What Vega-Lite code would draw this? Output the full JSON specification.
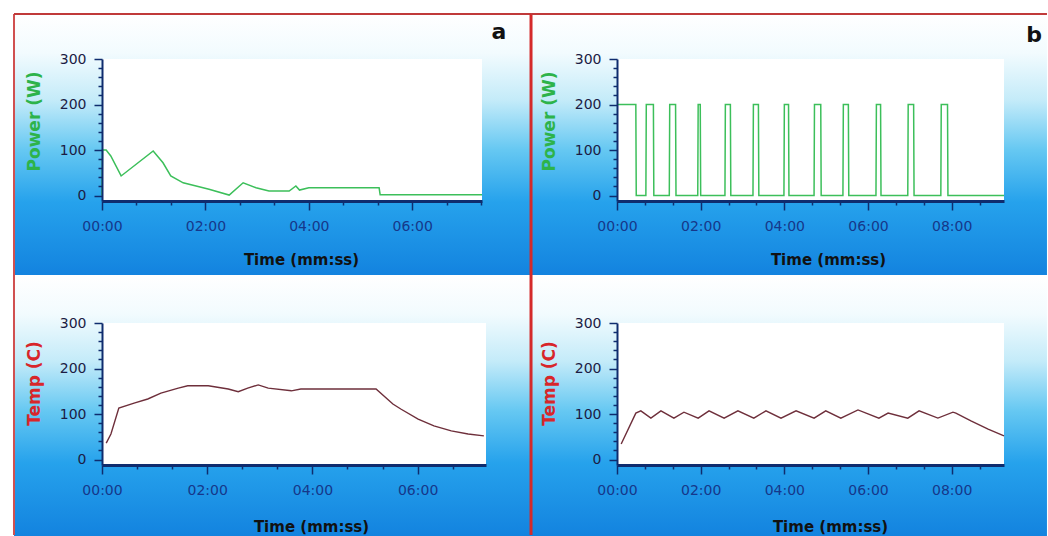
{
  "$schema": "https://vega.github.io/schema/vega-lite/v6.json",
  "background": "#ffffff",
  "padding": {"left": 12, "top": 12, "right": 0, "bottom": 0},
  "bounds": "flush",
  "columns": 2,
  "spacing": {"row": 122, "column": 131},
  "datasets": {
    "one": [{"k": 1}],
    "powerA": [
      {"t": 0, "v": 0}, {"t": 0.01, "v": 100}, {"t": 0.08, "v": 100}, {"t": 0.17, "v": 87}, {"t": 0.37, "v": 43},
      {"t": 0.99, "v": 98}, {"t": 1.18, "v": 72}, {"t": 1.33, "v": 43}, {"t": 1.57, "v": 28}, {"t": 1.82, "v": 21},
      {"t": 2.07, "v": 14}, {"t": 2.46, "v": 1}, {"t": 2.73, "v": 28}, {"t": 2.98, "v": 17}, {"t": 3.23, "v": 10},
      {"t": 3.62, "v": 10}, {"t": 3.75, "v": 21}, {"t": 3.82, "v": 12}, {"t": 4.0, "v": 17}, {"t": 5.36, "v": 17},
      {"t": 5.38, "v": 2}, {"t": 7.35, "v": 2}
    ],
    "powerB": [
      {"t": 0, "v": 200}, {"t": 0.45, "v": 200}, {"t": 0.46, "v": 0},
      {"t": 0.69, "v": 0}, {"t": 0.70, "v": 200}, {"t": 0.87, "v": 200}, {"t": 0.88, "v": 0},
      {"t": 1.25, "v": 0}, {"t": 1.26, "v": 200}, {"t": 1.40, "v": 200}, {"t": 1.41, "v": 0},
      {"t": 1.93, "v": 0}, {"t": 1.94, "v": 200}, {"t": 1.99, "v": 200}, {"t": 2.0, "v": 0},
      {"t": 2.58, "v": 0}, {"t": 2.59, "v": 200}, {"t": 2.71, "v": 200}, {"t": 2.72, "v": 0},
      {"t": 3.25, "v": 0}, {"t": 3.26, "v": 200}, {"t": 3.38, "v": 200}, {"t": 3.39, "v": 0},
      {"t": 3.99, "v": 0}, {"t": 4.0, "v": 200}, {"t": 4.10, "v": 200}, {"t": 4.11, "v": 0},
      {"t": 4.71, "v": 0}, {"t": 4.72, "v": 200}, {"t": 4.87, "v": 200}, {"t": 4.88, "v": 0},
      {"t": 5.40, "v": 0}, {"t": 5.41, "v": 200}, {"t": 5.53, "v": 200}, {"t": 5.54, "v": 0},
      {"t": 6.19, "v": 0}, {"t": 6.20, "v": 200}, {"t": 6.30, "v": 200}, {"t": 6.31, "v": 0},
      {"t": 6.95, "v": 0}, {"t": 6.96, "v": 200}, {"t": 7.09, "v": 200}, {"t": 7.10, "v": 0},
      {"t": 7.74, "v": 0}, {"t": 7.75, "v": 200}, {"t": 7.90, "v": 200}, {"t": 7.91, "v": 0},
      {"t": 9.25, "v": 0}
    ],
    "tempA": [
      {"t": 0.08, "v": 36}, {"t": 0.17, "v": 56}, {"t": 0.32, "v": 113}, {"t": 0.61, "v": 124}, {"t": 0.87, "v": 133},
      {"t": 1.12, "v": 146}, {"t": 1.45, "v": 157}, {"t": 1.63, "v": 162}, {"t": 2.02, "v": 162}, {"t": 2.40, "v": 155},
      {"t": 2.59, "v": 149}, {"t": 2.77, "v": 157}, {"t": 2.97, "v": 164}, {"t": 3.16, "v": 157}, {"t": 3.60, "v": 151},
      {"t": 3.78, "v": 155}, {"t": 5.21, "v": 155}, {"t": 5.53, "v": 122}, {"t": 5.68, "v": 111}, {"t": 6.01, "v": 89},
      {"t": 6.31, "v": 74}, {"t": 6.64, "v": 63}, {"t": 6.96, "v": 56}, {"t": 7.26, "v": 52}
    ],
    "tempB": [
      {"t": 0.1, "v": 34}, {"t": 0.45, "v": 102}, {"t": 0.57, "v": 107}, {"t": 0.81, "v": 91}, {"t": 1.05, "v": 107},
      {"t": 1.36, "v": 91}, {"t": 1.6, "v": 104}, {"t": 1.94, "v": 91}, {"t": 2.2, "v": 107}, {"t": 2.56, "v": 91},
      {"t": 2.89, "v": 107}, {"t": 3.27, "v": 91}, {"t": 3.56, "v": 107}, {"t": 3.92, "v": 91}, {"t": 4.28, "v": 107},
      {"t": 4.71, "v": 91}, {"t": 4.99, "v": 107}, {"t": 5.35, "v": 91}, {"t": 5.76, "v": 109}, {"t": 6.26, "v": 91},
      {"t": 6.48, "v": 102}, {"t": 6.95, "v": 91}, {"t": 7.22, "v": 107}, {"t": 7.67, "v": 91}, {"t": 8.03, "v": 104},
      {"t": 8.1, "v": 102}, {"t": 8.46, "v": 85}, {"t": 8.87, "v": 67}, {"t": 9.25, "v": 52}
    ]
  },
  "concat": [
    {
      "width": 380, "height": 142,
      "layer": [
        {"data": {"name": "one"}, "mark": {"type": "rect", "fill": {"gradient": "linear", "x1": 0, "y1": 0, "x2": 0, "y2": 1, "stops": [{"offset": 0, "color": "#ffffff"}, {"offset": 0.15, "color": "#f2fbfe"}, {"offset": 0.33, "color": "#c4ebf9"}, {"offset": 0.52, "color": "#66c8f2"}, {"offset": 0.72, "color": "#26a2ec"}, {"offset": 1, "color": "#1383df"}]}},
         "encoding": {"x": {"datum": -1.702, "type": "quantitative", "scale": {"domain": [0, 7.35], "nice": false, "zero": false}}, "x2": {"datum": 8.298},
                      "y": {"datum": 398.9, "type": "quantitative", "scale": {"domain": [-12, 300], "nice": false, "zero": false}}, "y2": {"datum": -174.6}}},
        {"data": {"name": "one"}, "mark": {"type": "rect", "fill": "#ffffff"},
         "encoding": {"x": {"datum": 0, "type": "quantitative"}, "x2": {"datum": 7.35}, "y": {"datum": -12, "type": "quantitative"}, "y2": {"datum": 300}}},
        {"data": {"name": "one"}, "mark": {"type": "rule", "color": "#d05050", "strokeWidth": 2},
         "encoding": {"x": {"datum": -1.702, "type": "quantitative"}, "y": {"datum": 398.9, "type": "quantitative"}, "y2": {"datum": -174.6}}},
        {"data": {"name": "one"}, "mark": {"type": "rule", "color": "#c03a3a", "strokeWidth": 2},
         "encoding": {"x": {"datum": -1.702, "type": "quantitative"}, "x2": {"datum": 8.298}, "y": {"datum": 398.9, "type": "quantitative"}}},
        {"data": {"name": "powerA"}, "mark": {"type": "line", "color": "#3cbf5a", "strokeWidth": 1.5},
         "encoding": {
           "x": {"field": "t", "type": "quantitative", "axis": {"zindex": 2, "tickCount": 100, "values": [0, 0.6667, 1.3333, 2, 2.6667, 3.3333, 4, 4.6667, 5.3333, 6, 6.6667, 7.3333], "labelExpr": "datum.value % 2 === 0 ? ((datum.value < 10 ? '0' : '') + datum.value + ':00') : ''", "tickSize": {"condition": {"test": "datum.value % 2 === 0", "value": 9}, "value": 4}, "title": "Time (mm:ss)", "titleX": 199, "titleY": 58}},
           "y": {"field": "v", "type": "quantitative", "axis": {"zindex": 2, "tickCount": 100, "values": [0, 20, 40, 60, 80, 100, 120, 140, 160, 180, 200, 220, 240, 260, 280, 300], "labelExpr": "datum.value % 100 === 0 ? datum.label : ''", "tickSize": {"condition": {"test": "datum.value % 100 === 0", "value": 8}, "value": 4}, "title": "Power (W)", "titleColor": "#2db34a", "titleX": -68, "titleY": 62}}
         }},
        {"data": {"name": "one"}, "mark": {"type": "text", "text": "a", "fontSize": 22, "fontWeight": "bold", "color": "#111111", "baseline": "alphabetic", "align": "center"},
         "encoding": {"x": {"datum": 7.679, "type": "quantitative"}, "y": {"datum": 343.9, "type": "quantitative"}}}
      ]
    },
    {
      "width": 387, "height": 142,
      "layer": [
        {"data": {"name": "one"}, "mark": {"type": "rect", "fill": {"gradient": "linear", "x1": 0, "y1": 0, "x2": 0, "y2": 1, "stops": [{"offset": 0, "color": "#ffffff"}, {"offset": 0.15, "color": "#f2fbfe"}, {"offset": 0.33, "color": "#c4ebf9"}, {"offset": 0.52, "color": "#66c8f2"}, {"offset": 0.72, "color": "#26a2ec"}, {"offset": 1, "color": "#1383df"}]}},
         "encoding": {"x": {"datum": -2.055, "type": "quantitative", "scale": {"domain": [0, 9.25], "nice": false, "zero": false}}, "x2": {"datum": 10.277},
                      "y": {"datum": 398.9, "type": "quantitative", "scale": {"domain": [-12, 300], "nice": false, "zero": false}}, "y2": {"datum": -174.6}}},
        {"data": {"name": "one"}, "mark": {"type": "rect", "fill": "#ffffff"},
         "encoding": {"x": {"datum": 0, "type": "quantitative"}, "x2": {"datum": 9.25}, "y": {"datum": -12, "type": "quantitative"}, "y2": {"datum": 300}}},
        {"data": {"name": "one"}, "mark": {"type": "rule", "color": "#d42a2a", "strokeWidth": 3},
         "encoding": {"x": {"datum": -2.055, "type": "quantitative"}, "y": {"datum": 398.9, "type": "quantitative"}, "y2": {"datum": -174.6}}},
        {"data": {"name": "one"}, "mark": {"type": "rule", "color": "#c03a3a", "strokeWidth": 2},
         "encoding": {"x": {"datum": -2.055, "type": "quantitative"}, "x2": {"datum": 10.277}, "y": {"datum": 398.9, "type": "quantitative"}}},
        {"data": {"name": "powerB"}, "mark": {"type": "line", "color": "#3cbf5a", "strokeWidth": 1.5},
         "encoding": {
           "x": {"field": "t", "type": "quantitative", "axis": {"zindex": 2, "tickCount": 100, "values": [0, 0.6667, 1.3333, 2, 2.6667, 3.3333, 4, 4.6667, 5.3333, 6, 6.6667, 7.3333, 8, 8.6667], "labelExpr": "datum.value % 2 === 0 ? ((datum.value < 10 ? '0' : '') + datum.value + ':00') : ''", "tickSize": {"condition": {"test": "datum.value % 2 === 0", "value": 9}, "value": 4}, "title": "Time (mm:ss)", "titleX": 211, "titleY": 58}},
           "y": {"field": "v", "type": "quantitative", "axis": {"zindex": 2, "tickCount": 100, "values": [0, 20, 40, 60, 80, 100, 120, 140, 160, 180, 200, 220, 240, 260, 280, 300], "labelExpr": "datum.value % 100 === 0 ? datum.label : ''", "tickSize": {"condition": {"test": "datum.value % 100 === 0", "value": 8}, "value": 4}, "title": "Power (W)", "titleColor": "#2db34a", "titleX": -68, "titleY": 62}}
         }},
        {"data": {"name": "one"}, "mark": {"type": "text", "text": "b", "fontSize": 22, "fontWeight": "bold", "color": "#111111", "baseline": "alphabetic", "align": "center"},
         "encoding": {"x": {"datum": 9.97, "type": "quantitative"}, "y": {"datum": 337, "type": "quantitative"}}}
      ]
    },
    {
      "width": 384, "height": 142,
      "layer": [
        {"data": {"name": "one"}, "mark": {"type": "rect", "fill": {"gradient": "linear", "x1": 0, "y1": 0, "x2": 0, "y2": 1, "stops": [{"offset": 0, "color": "#ffffff"}, {"offset": 0.15, "color": "#f2fbfe"}, {"offset": 0.33, "color": "#c4ebf9"}, {"offset": 0.52, "color": "#66c8f2"}, {"offset": 0.72, "color": "#26a2ec"}, {"offset": 1, "color": "#1383df"}]}},
         "encoding": {"x": {"datum": -1.673, "type": "quantitative", "scale": {"domain": [0, 7.3], "nice": false, "zero": false}}, "x2": {"datum": 8.156},
                      "y": {"datum": 405.5, "type": "quantitative", "scale": {"domain": [-12, 300], "nice": false, "zero": false}}, "y2": {"datum": -168.0}}},
        {"data": {"name": "one"}, "mark": {"type": "rect", "fill": "#ffffff"},
         "encoding": {"x": {"datum": 0, "type": "quantitative"}, "x2": {"datum": 7.3}, "y": {"datum": -12, "type": "quantitative"}, "y2": {"datum": 300}}},
        {"data": {"name": "one"}, "mark": {"type": "rule", "color": "#d05050", "strokeWidth": 2},
         "encoding": {"x": {"datum": -1.673, "type": "quantitative"}, "y": {"datum": 405.5, "type": "quantitative"}, "y2": {"datum": -165.8}}},
        {"data": {"name": "tempA"}, "mark": {"type": "line", "color": "#6e2f3b", "strokeWidth": 1.4},
         "encoding": {
           "x": {"field": "t", "type": "quantitative", "axis": {"zindex": 2, "tickCount": 100, "values": [0, 0.6667, 1.3333, 2, 2.6667, 3.3333, 4, 4.6667, 5.3333, 6, 6.6667], "labelExpr": "datum.value % 2 === 0 ? ((datum.value < 10 ? '0' : '') + datum.value + ':00') : ''", "tickSize": {"condition": {"test": "datum.value % 2 === 0", "value": 9}, "value": 4}, "title": "Time (mm:ss)", "titleX": 209, "titleY": 61}},
           "y": {"field": "v", "type": "quantitative", "axis": {"zindex": 2, "tickCount": 100, "values": [0, 20, 40, 60, 80, 100, 120, 140, 160, 180, 200, 220, 240, 260, 280, 300], "labelExpr": "datum.value % 100 === 0 ? datum.label : ''", "tickSize": {"condition": {"test": "datum.value % 100 === 0", "value": 8}, "value": 4}, "title": "Temp (C)", "titleColor": "#d8262a", "titleX": -68, "titleY": 60}}
         }}
      ]
    },
    {
      "width": 387, "height": 142,
      "layer": [
        {"data": {"name": "one"}, "mark": {"type": "rect", "fill": {"gradient": "linear", "x1": 0, "y1": 0, "x2": 0, "y2": 1, "stops": [{"offset": 0, "color": "#ffffff"}, {"offset": 0.15, "color": "#f2fbfe"}, {"offset": 0.33, "color": "#c4ebf9"}, {"offset": 0.52, "color": "#66c8f2"}, {"offset": 0.72, "color": "#26a2ec"}, {"offset": 1, "color": "#1383df"}]}},
         "encoding": {"x": {"datum": -2.055, "type": "quantitative", "scale": {"domain": [0, 9.25], "nice": false, "zero": false}}, "x2": {"datum": 10.277},
                      "y": {"datum": 405.5, "type": "quantitative", "scale": {"domain": [-12, 300], "nice": false, "zero": false}}, "y2": {"datum": -168.0}}},
        {"data": {"name": "one"}, "mark": {"type": "rect", "fill": "#ffffff"},
         "encoding": {"x": {"datum": 0, "type": "quantitative"}, "x2": {"datum": 9.25}, "y": {"datum": -12, "type": "quantitative"}, "y2": {"datum": 300}}},
        {"data": {"name": "one"}, "mark": {"type": "rule", "color": "#d42a2a", "strokeWidth": 3},
         "encoding": {"x": {"datum": -2.055, "type": "quantitative"}, "y": {"datum": 405.5, "type": "quantitative"}, "y2": {"datum": -165.8}}},
        {"data": {"name": "tempB"}, "mark": {"type": "line", "color": "#6e2f3b", "strokeWidth": 1.4},
         "encoding": {
           "x": {"field": "t", "type": "quantitative", "axis": {"zindex": 2, "tickCount": 100, "values": [0, 0.6667, 1.3333, 2, 2.6667, 3.3333, 4, 4.6667, 5.3333, 6, 6.6667, 7.3333, 8, 8.6667], "labelExpr": "datum.value % 2 === 0 ? ((datum.value < 10 ? '0' : '') + datum.value + ':00') : ''", "tickSize": {"condition": {"test": "datum.value % 2 === 0", "value": 9}, "value": 4}, "title": "Time (mm:ss)", "titleX": 213, "titleY": 61}},
           "y": {"field": "v", "type": "quantitative", "axis": {"zindex": 2, "tickCount": 100, "values": [0, 20, 40, 60, 80, 100, 120, 140, 160, 180, 200, 220, 240, 260, 280, 300], "labelExpr": "datum.value % 100 === 0 ? datum.label : ''", "tickSize": {"condition": {"test": "datum.value % 100 === 0", "value": 8}, "value": 4}, "title": "Temp (C)", "titleColor": "#d8262a", "titleX": -68, "titleY": 60}}
         }}
      ]
    }
  ],
  "config": {
    "view": {"stroke": null},
    "font": "DejaVu Sans",
    "axis": {
      "grid": false,
      "domainColor": "#0f2c6e", "tickColor": "#0f2c6e", "tickWidth": 1.5,
      "labelFont": "DejaVu Sans", "labelFontSize": 14, "labelFlush": false, "labelOverlap": false, "labelBound": false,
      "titleFont": "DejaVu Sans", "titleFontWeight": "bold", "titleBaseline": "middle", "titleAlign": "center"
    },
    "axisX": {"labelColor": "#16378a", "domainWidth": 3, "labelPadding": 9, "titleFontSize": 15, "titleColor": "#111111"},
    "axisY": {"labelColor": "#1c1c44", "domainWidth": 2, "labelPadding": 8, "titleFontSize": 17, "titleAngle": 270}
  }
}
